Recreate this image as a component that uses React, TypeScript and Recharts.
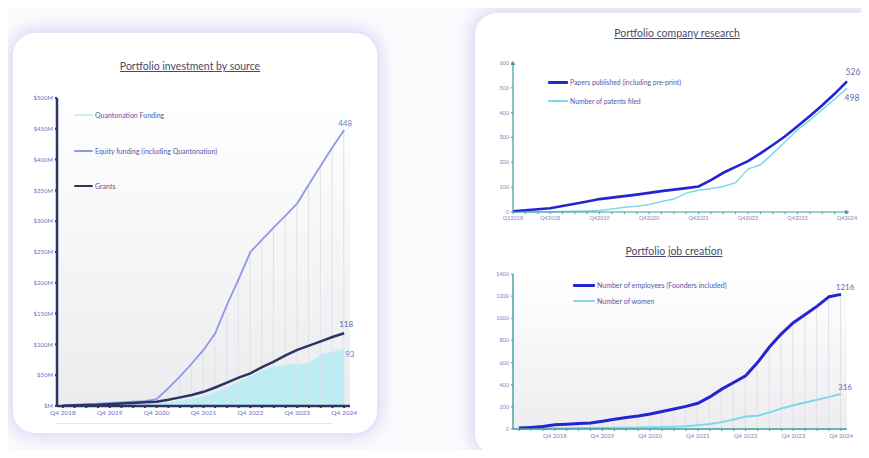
import React from "react";
import {
  ComposedChart,
  LineChart,
  Line,
  Area,
  Bar,
  XAxis,
  YAxis,
  CartesianGrid,
} from "recharts";

/* ── data ───────────────────────────────────────────────────────────────── */

const FUND_QUARTERS = [
  "Q4 2018", "Q1 2019", "Q2 2019", "Q3 2019", "Q4 2019", "Q1 2020", "Q2 2020",
  "Q3 2020", "Q4 2020", "Q1 2021", "Q2 2021", "Q3 2021", "Q4 2021", "Q1 2022",
  "Q2 2022", "Q3 2022", "Q4 2022", "Q1 2023", "Q2 2023", "Q3 2023", "Q4 2023",
  "Q1 2024", "Q2 2024", "Q3 2024", "Q4 2024",
];
const QUANTONATION = [0, 0, 0.5, 1, 1.5, 2, 2.5, 3, 4, 6, 9, 12, 16, 22, 30, 40, 48, 58, 64, 67, 68, 69, 83, 88, 93];
const EQUITY = [1, 2, 3, 4, 5, 6, 7, 8, 11, 29, 48, 69, 91, 118, 164, 206, 250, 270, 290, 309, 329, 360, 390, 420, 448];
const GRANTS = [0.5, 1, 1.5, 2, 3, 4, 5, 6, 7, 10, 14, 18, 23, 30, 38, 46, 53, 63, 72, 82, 91, 98, 105, 112, 118];
const FUND_TICKS = [0, 50, 100, 150, 200, 250, 300, 350, 400, 450, 500];

const QUARTERS = [
  "Q1 2018", "Q2 2018", "Q3 2018", "Q4 2018", "Q1 2019", "Q2 2019", "Q3 2019",
  "Q4 2019", "Q1 2020", "Q2 2020", "Q3 2020", "Q4 2020", "Q1 2021", "Q2 2021",
  "Q3 2021", "Q4 2021", "Q1 2022", "Q2 2022", "Q3 2022", "Q4 2022", "Q1 2023",
  "Q2 2023", "Q3 2023", "Q4 2023", "Q1 2024", "Q2 2024", "Q3 2024", "Q4 2024",
];
const PAPERS = [3, 7, 11, 15, 24, 33, 42, 52, 58, 64, 70, 77, 84, 90, 96, 103, 128, 158, 182, 205, 236, 270, 305, 345, 387, 430, 476, 526];
const PATENTS = [0, 0, 1, 1, 2, 3, 4, 6, 12, 19, 23, 30, 42, 52, 76, 88, 94, 103, 118, 173, 190, 235, 283, 331, 370, 412, 455, 498];
const RESEARCH_TICKS = [0, 100, 200, 300, 400, 500, 600];

const EMPLOYEES = [8, 14, 22, 38, 44, 50, 54, 70, 88, 104, 118, 135, 158, 180, 204, 232, 290, 360, 420, 480, 600, 740, 860, 960, 1035, 1110, 1195, 1216];
const WOMEN = [3, 4, 5, 6, 7, 8, 9, 10, 11, 12, 13, 15, 17, 20, 25, 35, 45, 62, 85, 112, 120, 150, 185, 215, 240, 265, 290, 316];
const JOB_TICKS = [0, 200, 400, 600, 800, 1000, 1200, 1400];

const fundData = FUND_QUARTERS.map((q, i) => ({
  q,
  quantonation: QUANTONATION[i],
  equity: EQUITY[i],
  grants: GRANTS[i],
}));
const researchData = QUARTERS.map((q, i) => ({ q, papers: PAPERS[i], patents: PATENTS[i] }));
const jobsData = QUARTERS.map((q, i) => ({ q, employees: EMPLOYEES[i], women: WOMEN[i] }));

/* ── styles ─────────────────────────────────────────────────────────────── */

const FONT = "Lato, 'Open Sans', sans-serif";
const NAVY = "#2b3463";
const EQ = "#8d9ae6";
const CYAN_FILL = "#bcedf4";
const TEAL = "#3f9c9c";
const BLUE = "#2424d2";
const LIGHT = "#7fd8ea";
const LABEL = "#6c70c8";
const GREY_LABEL = "#8585b5";

const card: React.CSSProperties = {
  position: "absolute",
  background: "#fff",
  borderRadius: 22,
  boxShadow: "0 0 16px 5px rgba(196,196,238,0.6)",
};

function Title({ x, y, children }: { x: number; y: number; children: string }) {
  return (
    <div
      style={{
        position: "absolute",
        left: x - 120,
        top: y - 8,
        width: 240,
        textAlign: "center",
        fontSize: 10.5,
        color: "#4a4a68",
        textDecoration: "underline",
        fontFamily: FONT,
      }}
    >
      {children}
    </div>
  );
}

function LegendRow(p: { x: number; y: number; w: number; color: string; thick: number; text: string; size?: number }) {
  return (
    <div style={{ position: "absolute", left: p.x, top: p.y - 6, height: 12, display: "flex", alignItems: "center" }}>
      <div style={{ width: p.w, height: p.thick, background: p.color, borderRadius: 1 }} />
      <span style={{ marginLeft: 2, fontSize: p.size ?? 7, color: "#5656a8", fontFamily: FONT, whiteSpace: "nowrap" }}>
        {p.text}
      </span>
    </div>
  );
}

// value label on the last point only
function endLabel(key: string, last: number, color: string, dx: number, dy: number, size: number, anchor = "middle") {
  return (p: any) => {
    if (p.index !== last) return <g key={`d${p.index}`} />;
    return (
      <text
        key="end"
        x={p.cx + dx}
        y={p.cy + dy}
        fill={color}
        fontSize={size}
        fontFamily={FONT}
        textAnchor={anchor}
      >
        {Math.round(Number(p.payload?.[key]))}
      </text>
    );
  };
}

const q4Only = (v: string) => (v.startsWith("Q4") ? v : "");

/* ── app ────────────────────────────────────────────────────────────────── */

export default function App() {
  return (
    <div
      style={{
        position: "relative",
        width: 869,
        height: 458,
        margin: -8,
        overflow: "hidden",
        background: "#fbfbfe",
        fontFamily: FONT,
      }}
    >
      <div style={{ ...card, left: 13, top: 33, width: 364, height: 400 }} />
      <div style={{ ...card, left: 475, top: 13, width: 420, height: 442 }} />

      {/* ── Portfolio investment by source ── */}
      <Title x={190} y={68}>Portfolio investment by source</Title>
      <div style={{ position: "absolute", left: 0, top: 30 }}>
        <ComposedChart
          width={390}
          height={410}
          data={fundData}
          margin={{ top: 68, right: 40, bottom: 14, left: 17 }}
        >
          <defs>
            <linearGradient id="bgFund" x1="0" y1="0" x2="0" y2="1">
              <stop offset="0%" stopColor="#ffffff" />
              <stop offset="100%" stopColor="#ececef" />
            </linearGradient>
          </defs>
          <CartesianGrid horizontal={false} vertical={false} fill="url(#bgFund)" />
          <XAxis
            dataKey="q"
            interval={0}
            height={20}
            tickFormatter={q4Only}
            tick={{ fill: LABEL, fontSize: 6.5, fontFamily: FONT }}
            tickSize={2}
            tickLine={{ stroke: NAVY, strokeWidth: 2 }}
            axisLine={{ stroke: NAVY, strokeWidth: 2.5 }}
          />
          <YAxis
            domain={[0, 500]}
            ticks={FUND_TICKS}
            width={40}
            tickFormatter={(v: number) => `$${v === 0 ? "" : v}M`}
            tick={{ fill: LABEL, fontSize: 6, fontFamily: FONT }}
            tickSize={2}
            tickLine={{ stroke: NAVY, strokeWidth: 2 }}
            axisLine={{ stroke: NAVY, strokeWidth: 2.5 }}
          />
          <Area
            type="linear"
            dataKey="quantonation"
            stroke="none"
            fill={CYAN_FILL}
            fillOpacity={1}
            isAnimationActive={false}
            dot={endLabel("quantonation", FUND_QUARTERS.length - 1, "#7a80c8", 1, 8, 8, "start")}
          />
          <Bar dataKey="equity" barSize={1} fill="#e0e0e8" isAnimationActive={false} />
          <Line
            type="linear"
            dataKey="equity"
            stroke={EQ}
            strokeWidth={1.8}
            isAnimationActive={false}
            dot={endLabel("equity", FUND_QUARTERS.length - 1, "#6f78cc", 1, -4, 8)}
          />
          <Line
            type="linear"
            dataKey="grants"
            stroke={NAVY}
            strokeWidth={2.5}
            isAnimationActive={false}
            dot={endLabel("grants", FUND_QUARTERS.length - 1, "#5a5f9a", 2, -6, 8)}
          />
        </ComposedChart>
      </div>
      <div style={{ position: "absolute", left: 57, top: 423, width: 275, borderTop: "1px dotted #c9c9e4" }} />
      <LegendRow x={74} y={115} w={19} color="#c4f0f6" thick={2} text="Quantonation Funding" />
      <LegendRow x={74} y={151} w={19} color={EQ} thick={1.5} text="Equity funding (including Quantonation)" />
      <LegendRow x={74} y={186} w={19} color={NAVY} thick={2.5} text="Grants" />

      {/* ── Portfolio company research ── */}
      <Title x={677} y={35}>Portfolio company research</Title>
      <div style={{ position: "absolute", left: 470, top: 30 }}>
        <LineChart
          width={399}
          height={200}
          data={researchData}
          margin={{ top: 33, right: 22, bottom: 6, left: 13 }}
        >
          <defs>
            <marker
              id="arrTeal"
              viewBox="0 0 10 10"
              refX="5"
              refY="5"
              markerWidth="4"
              markerHeight="4"
              orient="auto-start-reverse"
            >
              <path d="M0,0 L10,5 L0,10 z" fill={TEAL} />
            </marker>
          </defs>
          <XAxis
            dataKey="q"
            interval={0}
            height={12}
            tickFormatter={(v: string, i: number) => (i === 0 || v.startsWith("Q4") ? v.replace(" ", "") : "")}
            tick={{ fill: GREY_LABEL, fontSize: 5.5, fontFamily: FONT }}
            tickSize={2}
            tickMargin={2}
            tickLine={{ stroke: TEAL }}
            axisLine={{ stroke: TEAL, strokeWidth: 1.2, markerEnd: "url(#arrTeal)" }}
          />
          <YAxis
            domain={[0, 600]}
            ticks={RESEARCH_TICKS}
            width={30}
            tick={{ fill: GREY_LABEL, fontSize: 5.5, fontFamily: FONT }}
            tickSize={2}
            tickLine={{ stroke: TEAL }}
            axisLine={{ stroke: TEAL, strokeWidth: 1.2, markerStart: "url(#arrTeal)" }}
          />
          <Line
            type="linear"
            dataKey="patents"
            stroke={LIGHT}
            strokeWidth={1.5}
            isAnimationActive={false}
            dot={endLabel("patents", QUARTERS.length - 1, "#6a6aa8", 5, 13, 8.5)}
          />
          <Line
            type="linear"
            dataKey="papers"
            stroke={BLUE}
            strokeWidth={2.6}
            isAnimationActive={false}
            dot={endLabel("papers", QUARTERS.length - 1, "#6a6aa8", 6, -6, 8.5)}
          />
        </LineChart>
      </div>
      <LegendRow x={548} y={82} w={20} color={BLUE} thick={3} text="Papers published (including pre-print)" size={6.8} />
      <LegendRow x={548} y={101} w={20} color={LIGHT} thick={2} text="Number of patents filed" size={6.8} />

      {/* ── Portfolio job creation ── */}
      <Title x={674} y={253}>Portfolio job creation</Title>
      <div style={{ position: "absolute", left: 470, top: 262 }}>
        <ComposedChart
          width={399}
          height={190}
          data={jobsData}
          margin={{ top: 12, right: 22, bottom: 9, left: 13 }}
        >
          <defs>
            <linearGradient id="bgJobs" x1="0" y1="0" x2="0" y2="1">
              <stop offset="0%" stopColor="#ffffff" />
              <stop offset="100%" stopColor="#ededf0" />
            </linearGradient>
          </defs>
          <CartesianGrid horizontal={false} vertical={false} fill="url(#bgJobs)" />
          <XAxis
            dataKey="q"
            interval={0}
            height={14}
            tickFormatter={q4Only}
            tick={{ fill: GREY_LABEL, fontSize: 6, fontFamily: FONT }}
            tickSize={2}
            tickMargin={3}
            tickLine={{ stroke: TEAL }}
            axisLine={{ stroke: TEAL, strokeWidth: 1.4 }}
          />
          <YAxis
            domain={[0, 1400]}
            ticks={JOB_TICKS}
            width={30}
            tick={{ fill: GREY_LABEL, fontSize: 5.5, fontFamily: FONT }}
            tickSize={2}
            tickLine={{ stroke: TEAL }}
            axisLine={{ stroke: TEAL, strokeWidth: 1.4 }}
          />
          <Bar dataKey="employees" barSize={1} fill="#e0e0e8" isAnimationActive={false} />
          <Line
            type="linear"
            dataKey="women"
            stroke={LIGHT}
            strokeWidth={2}
            isAnimationActive={false}
            dot={endLabel("women", QUARTERS.length - 1, "#6a6aa8", 4, -4, 8)}
          />
          <Line
            type="linear"
            dataKey="employees"
            stroke={BLUE}
            strokeWidth={3}
            isAnimationActive={false}
            dot={endLabel("employees", QUARTERS.length - 1, "#6a6aa8", 4, -4, 8)}
          />
        </ComposedChart>
      </div>
      <LegendRow x={573} y={285} w={22} color={BLUE} thick={3} text="Number of employees (Founders included)" size={7} />
      <LegendRow x={573} y={301} w={22} color={LIGHT} thick={2} text="Number of women" size={7} />
    </div>
  );
}
